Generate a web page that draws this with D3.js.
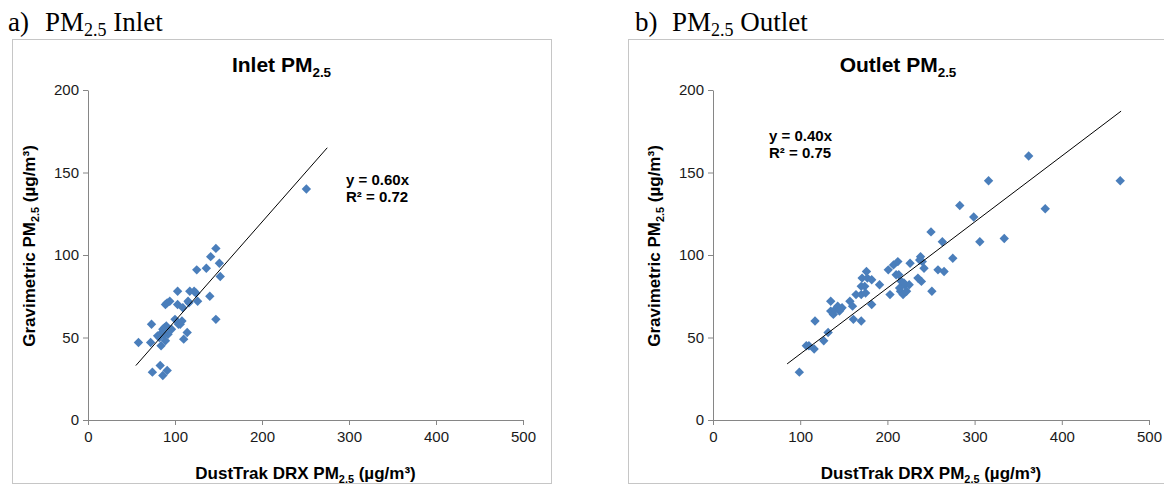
<!DOCTYPE html>
<html>
<head>
<meta charset="utf-8">
<script src="https://cdn.jsdelivr.net/npm/d3@7/dist/d3.min.js"></script>
<style>
body { margin: 0; background: #fff; }
</style>
</head>
<body>
<div id="chart"></div>
<script>
// Inlet readings: DustTrak (x) vs gravimetric (y)
var inletX = [58, 73, 72, 74, 83, 86, 91, 84, 80, 85, 88, 90, 89, 86, 92, 96, 89, 94, 91, 100,
    103, 103, 104, 106, 108, 109, 110, 114, 115, 116, 117, 122, 124, 126, 125, 136, 141, 147, 151, 152,
    140, 147, 251, 82, 87];
var inletY = [47, 58, 47, 29, 33, 27, 30, 45, 51, 53, 56, 57, 48, 55, 52, 55, 70, 72, 71, 61,
    70, 78, 58, 58, 60, 68, 49, 53, 72, 71, 78, 78, 77, 72, 91, 92, 99, 104, 95, 87,
    75, 61, 140, 50, 52];

// Outlet readings
var outletX = [99, 107, 110, 116, 117, 127, 132, 135, 135, 138, 140, 143, 145, 148, 146, 157, 160, 161, 164, 170,
    170, 170, 171, 174, 176, 175, 177, 182, 182, 191, 201, 203, 207, 210, 212, 213, 215, 216, 218, 220,
    222, 225, 226, 235, 238, 239, 240, 242, 250, 251, 258, 263, 265, 275, 283, 299, 306, 316, 334, 362,
    381, 467, 214, 219, 237];
var outletY = [29, 45, 45, 43, 60, 48, 53, 72, 66, 64, 67, 69, 66, 68, 67, 72, 69, 61, 76, 60,
    76, 81, 86, 81, 90, 77, 86, 85, 70, 82, 91, 76, 94, 88, 96, 88, 78, 84, 76, 82,
    78, 82, 95, 86, 99, 84, 96, 92, 114, 78, 91, 108, 90, 98, 130, 123, 108, 145, 110, 160,
    128, 145, 80, 83, 97];

var xTicks = [0, 100, 200, 300, 400, 500];
var yTicks = [0, 50, 100, 150, 200];

var inletFit = { slope: 0.60, r2: "0.72", from: 55, to: 275 };
var outletFit = { slope: 0.40, r2: "0.75", from: 85, to: 468 };

var blue = "#4a7ebb";
var axisGray = "#868686";

var svg = d3.select("#chart")
    .append("svg")
    .attr("width", 1164)
    .attr("height", 485)
    .style("font-family", "'Liberation Sans', Arial, sans-serif");

// Text with a subscript "2.5" after "PM"
function pmText(sel, before, after, size) {
    sel.append("tspan").text(before + "PM");
    sel.append("tspan").attr("font-size", size * 0.64).attr("dy", size * 0.22).text("2.5");
    sel.append("tspan").attr("dy", -size * 0.22).text(after);
}

function drawPanel(p) {
    var g = svg.append("g");

    // panel caption above the chart box
    var cap = g.append("text")
        .attr("x", p.capX)
        .attr("y", 31)
        .style("font-family", "'Liberation Serif', 'Times New Roman', serif")
        .style("font-size", "27px")
        .attr("fill", "#000");
    cap.append("tspan").text(p.letter + ")");
    cap.append("tspan").attr("x", p.capX + 37).text("PM");
    cap.append("tspan").attr("font-size", 18).attr("dy", 5).text("2.5");
    cap.append("tspan").attr("dy", -5).text(" " + p.name);

    g.append("rect")
        .attr("x", p.boxX + 0.5)
        .attr("y", 39.5)
        .attr("width", p.boxW)
        .attr("height", 444)
        .attr("fill", "none")
        .attr("stroke", "#c6c6c6");

    var x = d3.scaleLinear().domain([0, 500]).range([p.left, p.right]);
    var y = d3.scaleLinear().domain([0, 200]).range([420, 90]);

    var yAxis = g.append("g")
        .attr("transform", "translate(" + p.left + ",0)")
        .call(d3.axisLeft(y).tickValues(yTicks).tickSize(5).tickSizeOuter(0).tickPadding(4));
    var xAxis = g.append("g")
        .attr("transform", "translate(0,420)")
        .call(d3.axisBottom(x).tickValues(xTicks).tickSize(5).tickSizeOuter(0).tickPadding(6));

    [xAxis, yAxis].forEach(function (a) {
        a.select(".domain").attr("stroke", axisGray);
        a.selectAll(".tick line").attr("stroke", axisGray);
        a.selectAll(".tick text")
            .attr("fill", "#1a1a1a")
            .style("font-family", "'Liberation Sans', Arial, sans-serif")
            .style("font-size", "15px");
    });

    // chart title
    var t = g.append("text")
        .attr("x", p.boxX + p.boxW / 2)
        .attr("y", 72)
        .attr("text-anchor", "middle")
        .style("font-size", "21px")
        .style("font-weight", "bold");
    pmText(t, p.name + " ", "", 21);

    // axis titles
    var yt = g.append("text")
        .attr("transform", "translate(" + (p.left - 53) + ",246) rotate(-90)")
        .attr("text-anchor", "middle")
        .style("font-size", "17px")
        .style("font-weight", "bold");
    pmText(yt, "Gravimetric ", " (µg/m³)", 17);

    var xt = g.append("text")
        .attr("x", (p.left + p.right) / 2)
        .attr("y", 479)
        .attr("text-anchor", "middle")
        .style("font-size", "17px")
        .style("font-weight", "bold");
    pmText(xt, "DustTrak DRX ", " (µg/m³)", 17);

    // markers
    var diamond = d3.symbol().type(d3.symbolSquare).size(44);
    g.selectAll("path.pt")
        .data(p.xs)
        .enter()
        .append("path")
        .attr("class", "pt")
        .attr("d", diamond)
        .attr("fill", blue)
        .attr("transform", function (d, i) {
            return "translate(" + x(d) + "," + y(p.ys[i]) + ") rotate(45)";
        });

    // linear trendline through origin
    g.append("line")
        .attr("x1", x(p.fit.from))
        .attr("y1", y(p.fit.slope * p.fit.from))
        .attr("x2", x(p.fit.to))
        .attr("y2", y(p.fit.slope * p.fit.to))
        .attr("stroke", "#000")
        .attr("stroke-width", 1);

    var eq = g.append("text")
        .attr("x", p.eqX)
        .attr("y", p.eqY)
        .style("font-size", "15px")
        .style("font-weight", "bold");
    eq.append("tspan").text("y = " + p.fit.slope.toFixed(2) + "x");
    eq.append("tspan").attr("x", p.eqX).attr("dy", 17).text("R² = " + p.fit.r2);
}

drawPanel({
    letter: "a", name: "Inlet", capX: 8, boxX: 12, boxW: 539,
    left: 88, right: 523, xs: inletX, ys: inletY, fit: inletFit,
    eqX: 346, eqY: 185
});

drawPanel({
    letter: "b", name: "Outlet", capX: 635, boxX: 628, boxW: 540,
    left: 713, right: 1149, xs: outletX, ys: outletY, fit: outletFit,
    eqX: 769, eqY: 141
});
</script>
</body>
</html>
